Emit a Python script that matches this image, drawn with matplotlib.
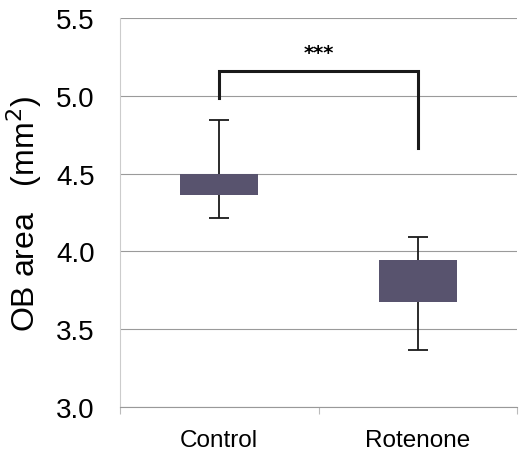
import matplotlib
matplotlib.use("Agg")
import matplotlib.pyplot as plt

plt.rcParams["font.family"] = ["Liberation Sans", "DejaVu Sans"]

categories = ["Control", "Rotenone"]
q1 = [4.36, 3.675]
q3 = [4.50, 3.945]
whisker_low = [4.215, 3.366]
whisker_high = [4.845, 4.093]
bracket_top = 5.16
bracket_left_end = 4.985
bracket_right_end = 4.665
sig_label = "***"
yticks = [3.0, 3.5, 4.0, 4.5, 5.0, 5.5]

fig = plt.figure(figsize=(5.23, 4.52), dpi=100)
ax = fig.add_axes([0.229, 0.097, 0.76, 0.861])

x = [0, 1]
box_color = "#58536e"
for i in x:
    ax.vlines(i, whisker_low[i], whisker_high[i], color="#1a1a1a", lw=1.3, zorder=2)
    ax.hlines([whisker_low[i], whisker_high[i]], i - 0.05, i + 0.05, color="#1a1a1a", lw=1.3, zorder=2)
ax.bar(x, [q3[i] - q1[i] for i in x], bottom=q1, width=0.39, color=box_color, zorder=3)

# significance bracket
ax.plot([0, 0, 1, 1], [bracket_left_end, bracket_top, bracket_top, bracket_right_end],
        color="#1a1a1a", lw=2.2, zorder=4, solid_joinstyle="miter")
ax.text(0.5, bracket_top + 0.06, sig_label, ha="center", va="bottom", fontsize=14,
        fontweight="bold", family=["DejaVu Sans"])

ax.set_xlim(-0.5, 1.5)
ax.set_ylim(3.0, 5.5)
ax.set_yticks(yticks)
ax.set_yticklabels([f"{t:.1f}" for t in yticks], fontsize=20)
ax.yaxis.grid(True, color="#9a9a9a", lw=0.8)
ax.set_axisbelow(True)
ax.tick_params(axis="y", length=0, pad=18)

ax.set_xticks([-0.5, 0.5, 1.5])
ax.set_xticklabels([])
ax.set_xticks(x, minor=True)
ax.set_xticklabels(categories, minor=True, fontsize=17.5)
ax.tick_params(axis="x", which="major", length=5, color="#bbbbbb")
ax.tick_params(axis="x", which="minor", length=0, pad=16)

for s in ["top", "right"]:
    ax.spines[s].set_visible(False)
ax.spines["left"].set_color("#cccccc")
ax.spines["bottom"].set_color("#999999")

ax.set_ylabel("OB area   (mm$^2$)", fontsize=23, labelpad=9)

fig.savefig("out.png", dpi=100)
